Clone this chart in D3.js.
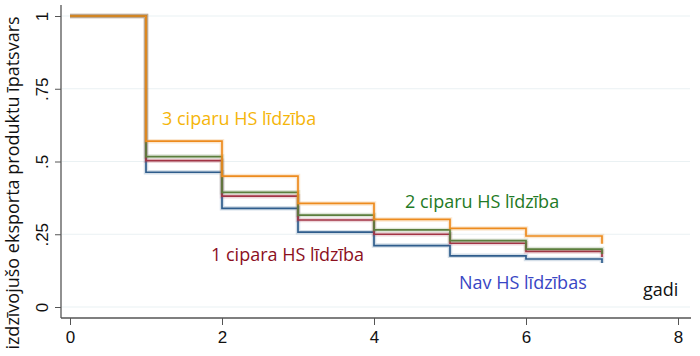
<!DOCTYPE html>
<html><head><meta charset="utf-8">
<script src="https://cdn.jsdelivr.net/npm/d3@7"></script>
<style>body{margin:0;background:#fff}svg{display:block}</style>
</head><body>
<script>
const years = [0,1,2,3,4,5,6,7];
const sNav = [1, 0.463, 0.339, 0.257, 0.211, 0.176, 0.165, 0.151];
const s1 = [1, 0.503, 0.381, 0.299, 0.250, 0.219, 0.191, 0.172];
const s2 = [1, 0.517, 0.394, 0.316, 0.265, 0.228, 0.199, 0.182];
const s3 = [1, 0.570, 0.450, 0.356, 0.301, 0.270, 0.244, 0.217];
const xTicks = [0,2,4,6,8];
const yTicks = [0,0.25,0.5,0.75,1];
const yTickLabels = ["0",".25",".5",".75","1"];
const seriesNames = ["Nav HS līdzības","1 cipara HS līdzība","2 ciparu HS līdzība","3 ciparu HS līdzība"];
const yTitle = "izdzīvojušo eksporta produktu īpatsvars";
const xTitle = "gadi";

const W=700,H=356;
const svg=d3.select("body").append("svg").attr("width",W).attr("height",H);
const x=d3.scaleLinear().domain([0,8]).range([70,678]);
const y=d3.scaleLinear().domain([0,1]).range([307,16]);
const font="'Open Sans', 'Noto Sans', sans-serif";
const tickFont="'Liberation Sans Narrow','Liberation Sans',Arial,sans-serif";

// gridlines
svg.append("g").selectAll("line").data(yTicks).join("line")
  .attr("x1",62).attr("x2",690).attr("y1",d=>y(d)).attr("y2",d=>y(d))
  .attr("stroke","#eaf1f3").attr("stroke-width",1.2);

// axes
const yAxis=d3.axisLeft(y).tickValues(yTicks).tickSize(6).tickFormat((d,i)=>yTickLabels[i]);
const gy=svg.append("g").attr("transform","translate(61,0)").call(yAxis);
gy.select(".domain").attr("d","M0,5V318").attr("stroke","#555").attr("stroke-width",1.3);
gy.selectAll(".tick line").attr("stroke","#555");
gy.selectAll(".tick text").attr("font-family",tickFont)
  .attr("font-size",17).attr("fill","#111").attr("x",null).attr("dy",null)
  .attr("transform","translate(-19,0) rotate(-90)").attr("text-anchor","middle").attr("dominant-baseline","central");

const xAxis=d3.axisBottom(x).tickValues(xTicks).tickSize(7).tickFormat(d3.format("d"));
const gx=svg.append("g").attr("transform","translate(0,318)").call(xAxis);
gx.select(".domain").attr("d","M61,0H691").attr("stroke","#555").attr("stroke-width",1.3);
gx.selectAll(".tick line").attr("stroke","#555");
gx.selectAll(".tick text").attr("font-family",tickFont)
  .attr("font-size",17).attr("fill","#111").attr("y",13).attr("dy","0.71em");

// lines
const colors=["#2f5d8c","#a33445","#5b7e3d","#ed8b1e"];
const allSeries=[sNav,s1,s2,s3];
const line=d3.line().x((d,i)=>x(years[i])).y(d=>y(d)).curve(d3.curveStepAfter);
allSeries.forEach((s,k)=>{
  svg.append("path").attr("d",line(s)).attr("fill","none").attr("stroke",colors[k])
    .attr("stroke-width",4.5).attr("stroke-opacity",0.2);
  svg.append("path").attr("d",line(s)).attr("fill","none").attr("stroke",colors[k])
    .attr("stroke-width",1.7);
});

// labels
const labels=[
  {t:seriesNames[3],x:162,y:125,c:"#f5b50a"},
  {t:seriesNames[2],x:405,y:208,c:"#1f7a26"},
  {t:seriesNames[1],x:211,y:261,c:"#8c0f1e"},
  {t:seriesNames[0],x:459,y:289,c:"#3946c4"},
  {t:xTitle,x:643,y:296,c:"#111"}
];
svg.append("g").selectAll("text").data(labels).join("text")
  .attr("x",d=>d.x).attr("y",d=>d.y).attr("fill",d=>d.c).attr("font-family",font)
  .attr("font-size",18).text(d=>d.t);

svg.append("text").attr("transform","translate(19,183) rotate(-90)").attr("text-anchor","middle")
  .attr("font-family",font).attr("font-size",18).attr("fill","#111").text(yTitle);
</script>
</body></html>
